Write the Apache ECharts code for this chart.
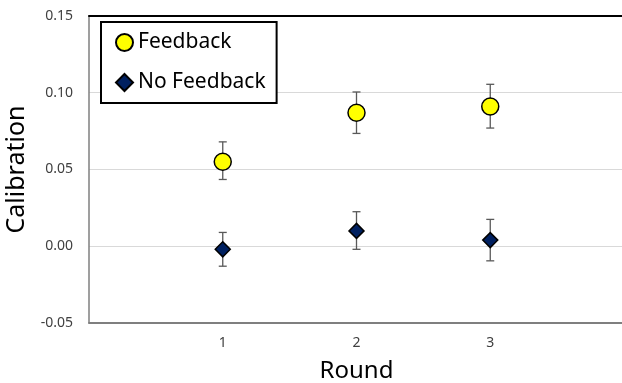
<!DOCTYPE html>
<html><head><meta charset="utf-8">
<script src="https://cdn.jsdelivr.net/npm/echarts@6/dist/echarts.min.js"></script>
<style>html,body{margin:0;padding:0;background:#fff}#c{width:622px;height:383px}</style>
</head><body><div id="c"></div>
<script>
const rounds = [1, 2, 3];
const feedback = [0.055, 0.087, 0.091];
const feedbackLow = [0.0435, 0.0735, 0.077];
const feedbackHigh = [0.068, 0.1005, 0.1055];
const noFeedback = [-0.002, 0.010, 0.004];
const noFeedbackLow = [-0.013, -0.002, -0.0095];
const noFeedbackHigh = [0.009, 0.0225, 0.0175];
const yTicks = [-0.05, 0, 0.05, 0.10, 0.15];

const font = 'Noto Sans';
const chart = echarts.init(document.getElementById('c'));

function errSeries(low, high) {
  return {
    type: 'custom',
    z: 1,
    silent: true,
    data: rounds.map((r, i) => [r, low[i], high[i]]),
    renderItem: function (params, api) {
      const x = api.value(0);
      const p1 = api.coord([x, api.value(1)]);
      const p2 = api.coord([x, api.value(2)]);
      const w = 4;
      const st = { stroke: '#595959', lineWidth: 1.3 };
      return {
        type: 'group',
        children: [
          { type: 'line', shape: { x1: p1[0], y1: p1[1], x2: p2[0], y2: p2[1] }, style: st },
          { type: 'line', shape: { x1: p1[0] - w, y1: p1[1], x2: p1[0] + w, y2: p1[1] }, style: st },
          { type: 'line', shape: { x1: p2[0] - w, y1: p2[1], x2: p2[0] + w, y2: p2[1] }, style: st }
        ]
      };
    }
  };
}

chart.setOption({
  animation: false,
  textStyle: { fontFamily: font },
  grid: { left: 89, right: -2, top: 16, bottom: 60, containLabel: false, outerBoundsMode: 'none' },
  legend: {
    orient: 'vertical',
    left: 101, top: 22,
    padding: [10, 11, 10, 14],
    itemGap: 19,
    itemWidth: 17, itemHeight: 17,
    borderColor: '#000', borderWidth: 2,
    backgroundColor: '#fff',
    textStyle: { fontFamily: font, fontSize: 21, color: '#000' },
    data: ['Feedback', 'No Feedback']
  },
  xAxis: [{
    type: 'value', min: 0, max: 4, interval: 1,
    name: 'Round', nameLocation: 'middle', nameGap: 36,
    nameTextStyle: { fontSize: 24, color: '#000', fontFamily: font },
    axisLine: { show: true, onZero: false, lineStyle: { color: '#7f7f7f', width: 1.8 } },
    axisTick: { show: false },
    splitLine: { show: false },
    axisLabel: {
      fontSize: 14, color: '#404040', margin: 13,
      formatter: v => rounds.indexOf(v) >= 0 ? String(v) : ''
    }
  }, {
    type: 'value', min: 0, max: 4, position: 'top',
    axisLine: { show: true, onZero: false, lineStyle: { color: '#000', width: 2 } },
    axisTick: { show: false }, axisLabel: { show: false }, splitLine: { show: false }
  }],
  yAxis: {
    type: 'value', min: yTicks[0], max: yTicks[yTicks.length - 1], interval: 0.05,
    name: 'Calibration', nameLocation: 'middle', nameGap: 60,
    nameTextStyle: { fontSize: 25, color: '#000', fontFamily: font },
    axisLine: { show: true, onZero: false, lineStyle: { color: '#7f7f7f', width: 1.5 } },
    axisTick: { show: false },
    splitLine: { show: true, lineStyle: { color: '#d9d9d9', width: 1 } },
    axisLabel: { fontSize: 14, color: '#404040', margin: 16, formatter: v => v.toFixed(2) }
  },
  series: [
    errSeries(feedbackLow, feedbackHigh),
    errSeries(noFeedbackLow, noFeedbackHigh),
    {
      name: 'Feedback', type: 'scatter', z: 3,
      symbol: 'circle', symbolSize: 17,
      itemStyle: { color: '#ffff00', borderColor: '#000', borderWidth: 1.5, opacity: 1 },
      data: rounds.map((r, i) => [r, feedback[i]])
    },
    {
      name: 'No Feedback', type: 'scatter', z: 3,
      symbol: 'diamond', symbolSize: [15, 15],
      itemStyle: { color: '#002060', borderColor: '#000', borderWidth: 1.5, opacity: 1 },
      data: rounds.map((r, i) => [r, noFeedback[i]])
    }
  ]
});
</script>
</body></html>
